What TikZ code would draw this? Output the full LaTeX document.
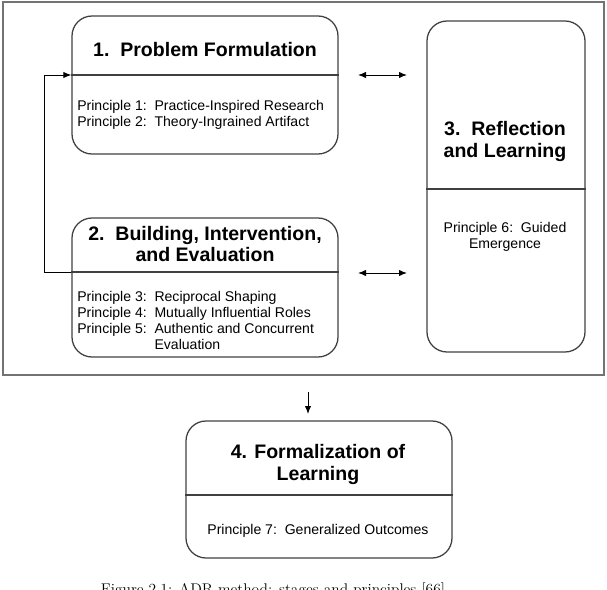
\documentclass[tikz,border=0pt]{standalone}
\usepackage{fontspec}
\setsansfont{Liberation Sans}
\usetikzlibrary{arrows.meta,positioning,calc}

\begin{document}
\begin{tikzpicture}[
      stage/.style={draw=black!75, line width=0.9pt, rounded corners=0.5cm, inner sep=0pt},
      title/.style={font=\sffamily\bfseries\fontsize{13.9}{15.6}\selectfont, align=center, inner sep=0pt},
      princ/.style={font=\sffamily\fontsize{10}{11.5}\selectfont, inner sep=0pt},
      sep/.style={draw=black!75, line width=0.9pt},
      arr/.style={-{Latex[length=2mm,width=1.6mm]}, line width=0.7pt},
      dbl/.style={{Latex[length=2mm,width=1.6mm]}-{Latex[length=2mm,width=1.6mm]}, line width=0.7pt}]
    \useasboundingbox (0,0) rectangle (15.175,-14.75);
    \draw[black!55, line width=1pt] (0.075,-0.05) rectangle (15.1,-9.375);
    % stages
    \node[stage, minimum width=6.65cm, minimum height=3.45cm] (pf) at (5.125,-2.125) {};
    \node[stage, minimum width=6.65cm, minimum height=3.475cm] (bie) at (5.125,-7.1875) {};
    \node[stage, minimum width=3.95cm, minimum height=8.275cm] (rl) at (12.65,-4.6625) {};
    \node[stage, minimum width=6.65cm, minimum height=3.425cm] (fl) at (7.975,-12.2375) {};
    % dividers
    \coordinate (pfsep) at (pf.west |- 0,-1.875);
    \coordinate (biesep) at (bie.west |- 0,-6.8);
    \coordinate (rlsep) at (rl.west |- 0,-4.725);
    \coordinate (flsep) at (fl.west |- 0,-12.375);
    \draw[sep] (pfsep) -- (pfsep -| pf.east);
    \draw[sep] (biesep) -- (biesep -| bie.east);
    \draw[sep] (rlsep) -- (rlsep -| rl.east);
    \draw[sep] (flsep) -- (flsep -| fl.east);
    % titles
    \node[title] (pftitle) at (5.125,-1.25) {1.\ \ Problem Formulation};
    \node[title] (bietitle) at (5.125,-6.1) {2.\ \ Building, Intervention,\\and Evaluation};
    \node[title] (rltitle) at (12.625,-3.5375) {3.\ \ Reflection\\and Learning};
    \node[title] (fltitle) at (7.95,-11.6125) {4. Formalization of\\Learning};
    % principles
    \node[princ, anchor=west] (pfprinc) at (1.925,-2.875) {\begin{tabular}{@{}l@{\hspace{0.55em}}l@{}}
      Principle 1: & Practice-Inspired Research\\
      Principle 2: & Theory-Ingrained Artifact
    \end{tabular}};
    \node[princ, anchor=west] (bieprinc) at (1.925,-8.0625) {\begin{tabular}{@{}l@{\hspace{0.55em}}l@{}}
      Principle 3: & Reciprocal Shaping\\
      Principle 4: & Mutually Influential Roles\\
      Principle 5: & Authentic and Concurrent\\
                   & Evaluation
    \end{tabular}};
    \node[princ, align=center] (rlprinc) at (12.625,-5.9125) {Principle 6:\ \ Guided\\Emergence};
    \node[princ] (flprinc) at (7.95,-13.275) {Principle 7:\ \ Generalized Outcomes};
    % connectors
    \draw[arr] (biesep) -- ++(-0.675,0) |- (pfsep);
    \coordinate (pfl) at (8.95,-1.875);
    \coordinate (pfr) at (10.175,-1.875);
    \coordinate (biel) at (8.95,-6.825);
    \coordinate (bier) at (10.175,-6.825);
    \draw[dbl] (pfl) -- (pfr);
    \draw[dbl] (biel) -- (bier);
    \coordinate (down) at (7.7,-9.8);
    \draw[arr] (down) -- ++(0,-0.55);
    \node[anchor=base, font=\fontsize{11}{13}\selectfont, inner sep=0pt] (caption) at (6.825,-14.85)
      {Figure 2.1: ADR method: stages and principles [66]};
\end{tikzpicture}
\end{document}
